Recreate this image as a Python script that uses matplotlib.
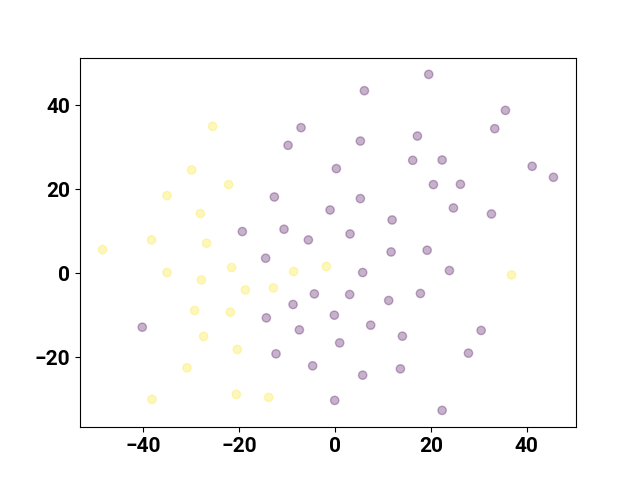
import matplotlib
matplotlib.use("Agg")
import matplotlib.pyplot as plt
from matplotlib.ticker import MultipleLocator
import numpy as np

purple_x = [19.54, 6.12, 35.55, 33.32, 5.28, 17.18, 16.20, 22.34, 0.27, 41.13,
            45.57, 5.28, -1.04, 20.52, 26.16, 24.70, 32.63, 11.90, 3.13,
            -7.10, -9.81, -12.67, -19.35, -10.65, -5.57,
            -14.49, -4.32, -8.77, -14.34, -40.23, -7.45, -12.32, -4.68,
            11.69, 19.21, 5.76, 23.86, 3.05, 11.19, 17.81, -0.15, 7.43, 14.05,
            30.48, 0.96, 27.83, 5.76, 13.63, -0.08, 22.34]
purple_y = [47.38, 43.50, 38.81, 34.45, 31.50, 32.69, 26.90, 26.98, 24.93, 25.48,
            22.86, 17.79, 15.07, 21.12, 21.19, 15.55, 14.12, 12.69, 9.36,
            34.69, 30.48, 18.17, 9.93, 10.48, 7.93,
            3.57, -4.93, -7.45, -10.64, -12.86, -13.50, -19.21, -22.07,
            5.07, 5.48, 0.17, 0.64, -5.07, -6.50, -4.83, -10.00, -12.38, -15.00,
            -13.64, -16.60, -19.05, -24.29, -22.79, -30.31, -32.69]

yellow_x = [-25.55, -29.94, -22.21, -35.07, -28.12, -38.29, -26.81, -48.52,
            -35.07, -21.59, -8.64, -1.82, -27.91, -18.73, -12.88, -29.31,
            -21.86, -27.43, -20.40, -30.90, -38.20, -20.61, -13.86, 36.81]
yellow_y = [35.00, 24.60, 21.12, 18.50, 14.21, 7.93, 7.14, 5.64,
            0.17, 1.36, 0.40, 1.60, -1.60, -3.98, -3.50, -8.88,
            -9.29, -15.07, -18.17, -22.55, -30.07, -28.88, -29.60, -0.40]

x = np.array(purple_x + yellow_x)
y = np.array(purple_y + yellow_y)
labels = np.array([0] * len(purple_x) + [1] * len(yellow_x))

plt.rcParams['font.family'] = ['Roboto', 'DejaVu Sans']
fig, ax = plt.subplots(figsize=(6.4, 4.8), dpi=100)
ax.scatter(x, y, c=labels, cmap='viridis', alpha=0.3)
ax.xaxis.set_major_locator(MultipleLocator(20))
ax.yaxis.set_major_locator(MultipleLocator(20))
for lbl in ax.get_xticklabels() + ax.get_yticklabels():
    lbl.set_fontsize(15)
    lbl.set_fontweight('bold')
fig.savefig("out.png")
